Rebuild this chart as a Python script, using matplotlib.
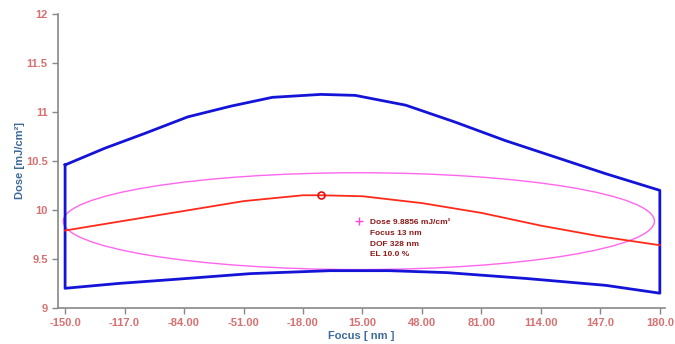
import matplotlib
matplotlib.use("Agg")
import matplotlib.pyplot as plt
from matplotlib.patches import Ellipse

plt.rcParams['font.family'] = ['Liberation Sans', 'DejaVu Sans']

# process window upper dose limit (focus nm, dose mJ/cm2)
up_focus = [-150, -128, -106, -82, -58, -35, -8, 11, 39, 66, 94, 122, 150, 180]
up_dose = [10.46, 10.63, 10.78, 10.95, 11.06, 11.15, 11.18, 11.17, 11.07, 10.90, 10.71, 10.54, 10.37, 10.20]
# process window lower dose limit
lo_focus = [-150, -120, -90, -47, -3, 30, 62, 106, 150, 180]
lo_dose = [9.20, 9.25, 9.29, 9.35, 9.38, 9.38, 9.36, 9.30, 9.23, 9.15]
# best-dose curve
red_focus = [-150, -117, -84, -51, -18, -8, 15, 48, 81, 114, 147, 180]
red_dose = [9.79, 9.89, 9.99, 10.09, 10.15, 10.15, 10.14, 10.07, 9.97, 9.84, 9.73, 9.64]
peak = (-8, 10.15)

# exposure latitude ellipse
ell_focus = 13
ell_dose = 9.8856
dof = 328
el = 10.0

xticks = [-150, -117, -84, -51, -18, 15, 48, 81, 114, 147, 180]
xticklabels = ['-150.0', '-117.0', '-84.00', '-51.00', '-18.00', '15.00',
               '48.00', '81.00', '114.00', '147.0', '180.0']
yticks = [9, 9.5, 10, 10.5, 11, 11.5, 12]
yticklabels = ['9', '9.5', '10', '10.5', '11', '11.5', '12']

fig = plt.figure(figsize=(6.75, 3.44), dpi=100)
ax = fig.add_axes([0.086, 0.105, 0.899, 0.854])

# blue window as closed outline
px = up_focus + lo_focus[::-1] + [up_focus[0]]
py = up_dose + lo_dose[::-1] + [up_dose[0]]
ax.plot(px, py, color='#1414d8', lw=2.0)

ax.add_patch(Ellipse((ell_focus, ell_dose), dof, ell_dose * el / 100,
                     fill=False, edgecolor='#ff66ee', lw=1.0))

ax.plot(red_focus, red_dose, color='#ff2a1a', lw=1.3)
ax.plot(*peak, 'o', mfc='none', mec='#e01010', ms=5, mew=1.2)

ax.plot(ell_focus, ell_dose, '+', color='#ff44dd', ms=6, mew=1)
txt = 'Dose %.4f mJ/cm²\nFocus %d nm\nDOF %d nm\nEL %.1f %%' % (ell_dose, ell_focus, dof, el)
ax.text(ell_focus + 6, ell_dose + 0.02, txt, color='#8b1a1a', fontsize=6,
        fontweight='bold', va='top', ha='left', linespacing=1.75)

ax.set_xlim(-153.9, 182.8)
ax.set_ylim(9, 12)
ax.set_xticks(xticks)
ax.set_xticklabels(xticklabels)
ax.set_yticks(yticks)
ax.set_yticklabels(yticklabels)

for s in ['top', 'right']:
    ax.spines[s].set_visible(False)
for s in ['left', 'bottom']:
    ax.spines[s].set_color('#888888')
    ax.spines[s].set_linewidth(1.2)
ax.tick_params(colors='#888888', length=4, width=1)
ax.tick_params(labelcolor='#d77070', labelsize=8)
for lbl in ax.get_xticklabels() + ax.get_yticklabels():
    lbl.set_fontweight('bold')

ax.set_xlabel('Focus [ nm ]', color='#3c6a9a', fontsize=8, fontweight='bold', labelpad=2)
ax.set_ylabel('Dose [mJ/cm²]', color='#3c6a9a', fontsize=8, fontweight='bold', labelpad=0.5)

fig.savefig('out.png', dpi=100)
